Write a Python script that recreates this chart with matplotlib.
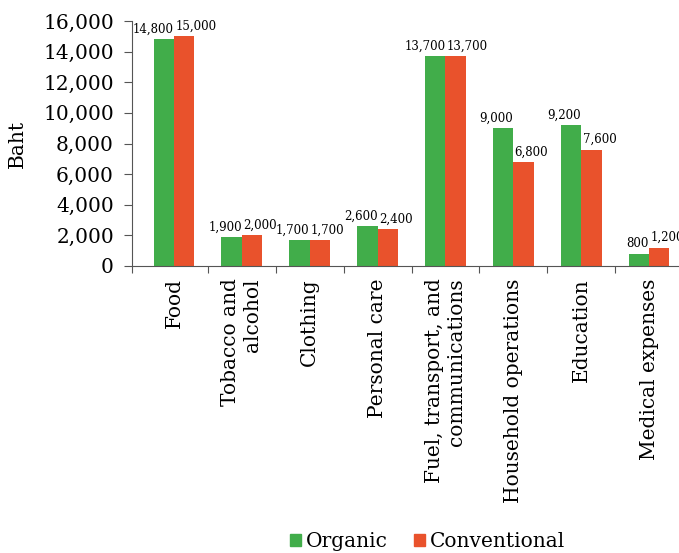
import numpy as np
import matplotlib.pyplot as plt
from matplotlib.patches import Patch

categories = ['Food', 'Tobacco and\nalcohol', 'Clothing', 'Personal care',
              'Fuel, transport, and\ncommunications', 'Household operations',
              'Education', 'Medical expenses']
organic = [14800, 1900, 1700, 2600, 13700, 9000, 9200, 800]
conventional = [15000, 2000, 1700, 2400, 13700, 6800, 7600, 1200]
yticks = [0, 2000, 4000, 6000, 8000, 10000, 12000, 14000, 16000]

green = '#41ad4a'
orange = '#e9522c'
axis_grey = '#555555'

plt.rcParams['font.family'] = 'DejaVu Serif'

fig = plt.figure(figsize=(6.79, 5.53), dpi=100)
ax = fig.add_axes([0.1944, 0.519, 0.8115, 0.443])

x = np.arange(len(categories))
w = 0.3
b1 = ax.bar(x - w / 2, organic, w, color=green)
b2 = ax.bar(x + w / 2, conventional, w, color=orange)

# organic labels hang to the left of their bar, conventional to the right
for rect, v in zip(b1, organic):
    ax.annotate(f'{v:,}', (rect.get_x() + rect.get_width(), v),
                xytext=(0, 2.5), textcoords='offset points',
                ha='right', va='bottom', fontsize=8.5)
for rect, v in zip(b2, conventional):
    ax.annotate(f'{v:,}', (rect.get_x(), v),
                xytext=(1, 2.5), textcoords='offset points',
                ha='left', va='bottom', fontsize=8.5,
                annotation_clip=False)

ax.set_xlim(-0.618, len(categories) - 0.5)
ax.set_ylim(0, 16000)
ax.set_yticks(yticks)
ax.set_yticklabels([f'{t:,}' for t in yticks], fontsize=14.5)
ax.set_ylabel('Baht', fontsize=14.5, labelpad=12)

# boundaries between categories get the tick marks, centres get the labels
ax.set_xticks(np.append(-0.618, np.arange(len(categories) - 1) + 0.5))
ax.set_xticklabels([])
ax.set_xticks(x, minor=True)
ax.set_xticklabels(categories, minor=True, rotation=90, fontsize=14.5,
                   va='top', ha='center', multialignment='right')
ax.tick_params(axis='x', which='minor', length=0, pad=9)
ax.tick_params(axis='x', which='major', length=5, color=axis_grey)
ax.tick_params(axis='y', length=6, color=axis_grey, pad=7)

for s in ['top', 'right']:
    ax.spines[s].set_visible(False)
for s in ['left', 'bottom']:
    ax.spines[s].set_color(axis_grey)

handles = [Patch(color=green, label='Organic'),
           Patch(color=orange, label='Conventional')]
fig.legend(handles=handles, loc='center', bbox_to_anchor=(0.63, 0.021),
           ncol=2, frameon=False, fontsize=14.5, handlelength=0.55,
           handleheight=0.55, handletextpad=0.25, columnspacing=1.3,
           borderpad=0.1)

fig.savefig('out.png', dpi=100)
